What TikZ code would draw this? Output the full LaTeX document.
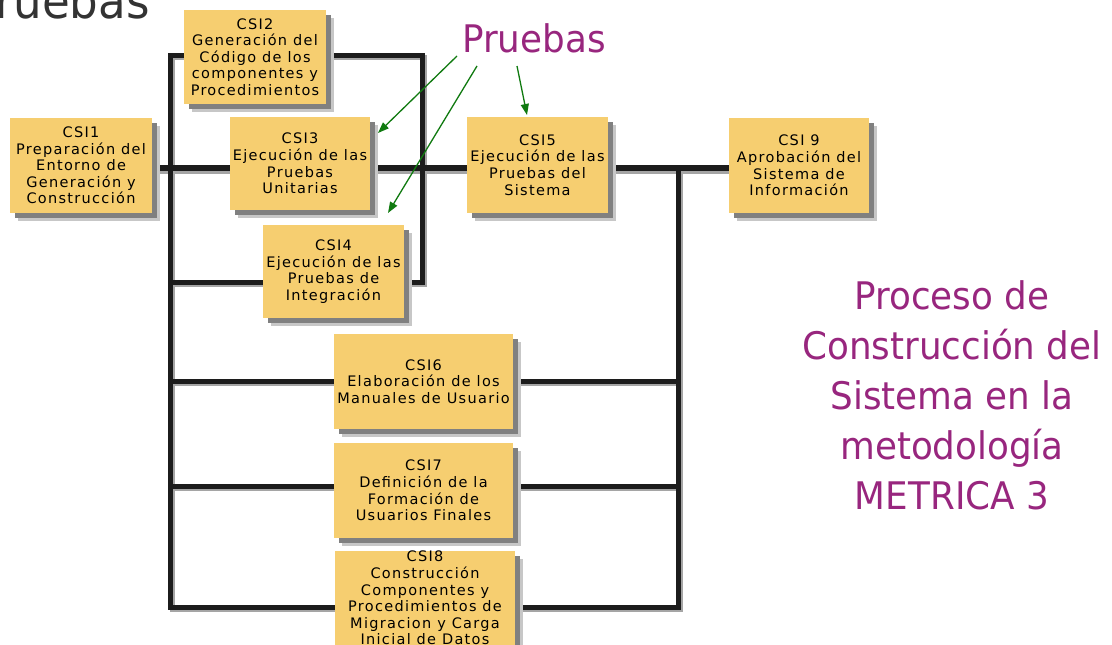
\documentclass[tikz,border=0pt]{standalone}
\usepackage{fontspec}
\setmainfont{DejaVu Sans}
\newfontfamily\boxfont{DejaVu Sans}[LetterSpace=9]
\newfontfamily\labelfont{DejaVu Sans}[FakeStretch=0.94]
\usetikzlibrary{arrows.meta,shadows,backgrounds}

\definecolor{boxfill}{RGB}{246,206,112}
\definecolor{busline}{RGB}{28,28,28}
\definecolor{busshade}{RGB}{165,165,165}
\definecolor{note}{RGB}{152,38,126}
\definecolor{pointer}{RGB}{16,122,16}
\definecolor{heading}{RGB}{51,51,51}

\tikzset{
  csi/.style={rectangle, fill=boxfill, inner sep=0pt, align=center,
    font=\boxfont\fontsize{14.5}{16.6}\selectfont, text=black,
    general shadow={fill=black!22, shadow xshift=8pt, shadow yshift=-8pt},
    general shadow={fill=black!50, shadow xshift=5pt, shadow yshift=-5pt}},
  bus/.style={draw=busline, line width=5pt, line join=miter},
  mainbus/.style={bus, line width=6.5pt},
  busshadow/.style={draw=busshade, transform canvas={shift={(2.5pt,-2.5pt)}}},
  pointer/.style={draw=pointer, line width=1.3pt,
    -{Triangle[length=11pt,width=8pt]}},
  note/.style={inner sep=0pt, text=note, align=center,
    font=\labelfont\fontsize{38}{50}\selectfont},
}
% all bus lines, drawn with an extra style (used once for the shadow, once for the ink)
\newcommand\buslines[1]{%
  \draw[bus,#1] (csi2.west |- jTop) -- (lbTop) -- (lbBot) -- (csi8.west |- lbBot);
  \draw[bus,#1] (csi2.east |- jTop) -- (jTop) -- (jBot) -- (csi4.east |- jBot);
  \draw[bus,#1] (lbTop |- jBot) -- (csi4.west |- jBot);
  \draw[mainbus,#1] (csi1.east |- rbTop) -- (csi9.west |- rbTop);
  \draw[bus,#1] (rbTop) -- (rbBot) -- (csi8.east |- rbBot);
  \draw[bus,#1] (lbTop |- row6) -- (csi6.west |- row6);
  \draw[bus,#1] (csi6.east |- row6) -- (rbTop |- row6);
  \draw[bus,#1] (lbTop |- row7) -- (csi7.west |- row7);
  \draw[bus,#1] (csi7.east |- row7) -- (rbTop |- row7);}

\begin{document}
\begin{tikzpicture}[x=1pt,y=-1pt]
  \useasboundingbox (0,0) rectangle (1112,645);

  % heading fragment, top left
  \node[anchor=base east, inner sep=0pt, text=heading,
        font=\labelfont\fontsize{48}{50}\selectfont] (hdr) at (150,19) {ruebas};

  % activity boxes
  \node[csi, minimum width=142pt, minimum height=95pt] (csi1) at (81,165.5)
    {CSI1\\Preparación del\\Entorno de\\Generación y\\Construcción};
  \node[csi, minimum width=142pt, minimum height=94pt] (csi2) at (255,57)
    {CSI2\\Generación del\\Código de los\\componentes y\\Procedimientos};
  \node[csi, minimum width=140pt, minimum height=93pt] (csi3) at (300,163.5)
    {CSI3\\Ejecución de las\\Pruebas\\Unitarias};
  \node[csi, minimum width=141pt, minimum height=93pt] (csi4) at (333.5,271.5)
    {CSI4\\Ejecución de las\\Pruebas de\\Integración};
  \node[csi, minimum width=141pt, minimum height=96pt] (csi5) at (537.5,165)
    {CSI5\\Ejecución de las\\Pruebas del\\Sistema};
  \node[csi, minimum width=140pt, minimum height=95pt] (csi9) at (799,165.5)
    {CSI 9\\Aprobación del\\Sistema de\\Información};
  \node[csi, minimum width=179pt, minimum height=95pt] (csi6) at (423.5,381.5)
    {CSI6\\Elaboración de los\\Manuales de Usuario};
  \node[csi, minimum width=179pt, minimum height=95pt] (csi7) at (423.5,490.5)
    {CSI7\\Definición de la\\Formación de\\Usuarios Finales};
  \node[csi, minimum width=180pt, anchor=north] (csi8) at (425,551)
    {CSI8\\Construcción\\Componentes y\\Procedimientos de\\Migracion y Carga\\Inicial de Datos};

  % junction points of the bus lines
  \coordinate (lbTop) at (170,55);
  \coordinate (lbBot) at (170,607);
  \coordinate (jTop)  at (422,55);
  \coordinate (jBot)  at (422,282);
  \coordinate (rbTop) at (678,168);
  \coordinate (rbBot) at (678,607);
  \coordinate (row6)  at (0,381);
  \coordinate (row7)  at (0,486);

  \begin{scope}[on background layer]
    \fill[white] (0,0) rectangle (1112,645);
    \buslines{busshadow}
    \buslines{}
  \end{scope}

  % testing callout
  \node[note, anchor=base west] (pru) at (462,52) {Pruebas};
  \coordinate (p1) at (457,56);
  \coordinate (p2) at (477,66);
  \coordinate (p3) at (517,66);
  \coordinate (t1) at (378,133);
  \coordinate (t2) at (388,213);
  \coordinate (t3) at (527,115);
  \draw[pointer] (p1) -- (t1);
  \draw[pointer] (p2) -- (t2);
  \draw[pointer] (p3) -- (t3);

  % caption
  \node[note, anchor=north] (caption) at (952,280)
    {Proceso de\\Construcción del\\Sistema en la\\metodología\\METRICA 3};
\end{tikzpicture}
\end{document}
